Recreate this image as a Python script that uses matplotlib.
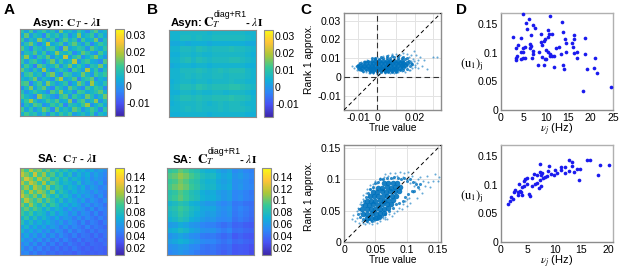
import matplotlib
matplotlib.use('Agg')
import matplotlib.pyplot as plt
import numpy as np
from matplotlib.colors import LinearSegmentedColormap

plt.rcParams['font.family'] = ['Liberation Sans', 'DejaVu Sans']
plt.rcParams['mathtext.fontset'] = 'stix'
plt.rcParams['font.size'] = 7

# heatmap values, coarse cells read by eye, in units of 0.001
asyn_true = [
    [9, 2, 12, -1, 6, 11, 3, 8, 0, 15, 4, 7, 1, 10, 5, -2, 8, 13, 2, 6],
    [4, 14, 1, 8, 5, -3, 12, 6, 10, 2, 9, -1, 5, 16, 3, 7, 11, 0, 9, 3],
    [11, 0, 7, 3, 16, 8, 1, 10, -2, 6, 13, 5, 9, -2, 12, 4, 6, 15, -1, 8],
    [2, 9, 15, 6, -2, 5, 19, 3, 7, 12, 0, 8, 14, 6, 1, 10, -3, 5, 11, 7],
    [13, 5, -2, 10, 7, 1, 9, 12, 4, -3, 16, 2, 6, 10, 8, 0, 13, 7, 3, 10],
    [0, 8, 6, 13, 3, 11, -1, 5, 17, 8, 6, 11, -2, 4, 14, 9, 2, -1, 12, 5],
    [7, 17, 3, -3, 10, 6, 14, 0, 8, 4, 21, 1, 9, 13, -1, 5, 10, 16, 6, 0],
    [10, 1, 9, 12, 4, -2, 7, 15, 2, 11, 3, 7, 20, 0, 8, 12, 4, 2, -2, 13],
    [3, 12, 5, -4, 14, 9, 2, 6, 13, 0, 8, 15, 4, 11, 5, -2, 9, 7, 15, 4],
    [14, 6, 0, 9, 2, 18, 5, -2, 6, 10, 5, -3, 12, 7, 1, 19, 3, 10, -1, 8],
    [1, 10, 13, 5, 8, -1, 11, 16, 3, -2, 12, 9, 2, 5, 15, 6, 0, 12, 7, 11],
    [6, 3, 8, 15, 0, 7, 4, -1, 12, 19, 2, 6, 13, -3, 7, 10, 14, -1, 5, 2],
    [11, 13, -3, 6, 12, 2, 16, 8, 1, 5, 10, -2, 4, 15, 9, 0, 18, 6, 3, 9],
    [-1, 7, 16, 2, 9, 14, 3, -3, 11, 7, 0, 14, 8, 2, -2, 12, 5, 11, 8, -2],
    [8, 0, 5, 11, 6, 3, -2, 13, 7, 16, 4, 7, -1, 12, 10, 3, 6, 9, 14, 5],
    [12, 6, 2, -2, 17, 10, 7, 1, -3, 9, 13, 0, 11, 6, 2, 15, 8, 0, 6, 15],
    [4, 11, 18, 8, 1, 5, 12, 7, 13, 3, 5, 16, -2, 9, 13, 2, 7, 17, 0, 7],
    [-2, 8, 3, 13, 10, -1, 2, 11, 6, 12, -3, 9, 7, 4, 11, 18, -1, 5, 10, 3],
    [12, 2, 9, 0, 6, 15, 10, -2, 14, 4, 8, 3, 14, 9, 0, 6, 12, 7, -2, 10],
    [5, 12, 7, 9, 2, 8, -1, 9, 3, 11, 6, 12, 1, 5, 8, 3, 10, -1, 7, 4],
]
asyn_r1 = [
    [5, 5, 6, 6, 6, 6, 6, 5, 6, 6, 6, 6, 6, 6, 5, 5],
    [5, 5, 7, 7, 6, 7, 6, 6, 7, 7, 7, 7, 7, 7, 6, 5],
    [3, 3, 4, 3, 4, 4, 4, 3, 4, 4, 4, 4, 4, 4, 3, 3],
    [5, 5, 7, 7, 6, 8, 7, 6, 7, 7, 7, 8, 7, 7, 6, 5],
    [4, 4, 6, 6, 5, 6, 5, 5, 6, 6, 6, 6, 6, 6, 5, 4],
    [5, 5, 7, 8, 6, 8, 7, 6, 7, 7, 7, 8, 8, 7, 6, 5],
    [3, 4, 5, 5, 4, 5, 5, 4, 5, 5, 5, 5, 5, 5, 4, 4],
    [5, 5, 7, 7, 7, 8, 7, 6, 7, 8, 7, 8, 8, 8, 6, 5],
    [5, 5, 6, 7, 6, 7, 6, 6, 7, 7, 6, 7, 7, 7, 6, 5],
    [4, 5, 6, 6, 5, 6, 6, 5, 6, 6, 6, 7, 6, 6, 5, 5],
    [5, 6, 8, 8, 7, 9, 8, 7, 8, 8, 8, 9, 9, 8, 7, 6],
    [4, 4, 6, 6, 5, 6, 5, 5, 6, 6, 5, 6, 6, 6, 5, 4],
    [5, 6, 8, 8, 7, 8, 7, 7, 8, 8, 8, 9, 8, 8, 7, 5],
    [4, 5, 6, 6, 6, 7, 6, 5, 6, 7, 6, 7, 7, 6, 5, 5],
    [5, 5, 6, 7, 6, 7, 6, 6, 6, 7, 6, 7, 7, 7, 6, 5],
    [4, 4, 5, 5, 5, 5, 5, 4, 5, 5, 5, 5, 5, 5, 4, 4],
]
sa_true = [
    [108, 92, 116, 98, 106, 88, 100, 80, 90, 74, 84, 70, 78, 64, 72, 60, 68, 56, 62, 54],
    [118, 104, 90, 120, 94, 110, 84, 96, 74, 88, 68, 82, 60, 74, 62, 70, 54, 64, 56, 50],
    [100, 122, 108, 92, 114, 96, 104, 78, 92, 72, 84, 64, 76, 68, 58, 66, 52, 60, 54, 48],
    [114, 96, 118, 106, 88, 112, 82, 100, 86, 70, 78, 72, 62, 78, 56, 64, 58, 50, 60, 46],
    [96, 110, 88, 114, 102, 86, 108, 76, 90, 82, 66, 76, 70, 58, 70, 52, 62, 56, 48, 52],
    [110, 90, 112, 94, 110, 100, 80, 102, 72, 86, 74, 62, 72, 60, 64, 58, 50, 60, 50, 46],
    [118, 102, 92, 106, 84, 108, 90, 74, 88, 68, 80, 70, 56, 68, 54, 62, 54, 46, 56, 44],
    [94, 116, 100, 86, 102, 78, 98, 84, 68, 82, 62, 74, 64, 54, 64, 48, 58, 50, 44, 52],
    [104, 86, 110, 90, 76, 94, 72, 90, 78, 62, 72, 58, 68, 60, 48, 58, 46, 54, 48, 42],
    [88, 100, 82, 96, 84, 68, 84, 64, 76, 68, 54, 66, 52, 60, 54, 44, 56, 42, 50, 46],
    [92, 78, 92, 72, 80, 74, 60, 76, 58, 70, 62, 50, 60, 46, 56, 50, 42, 52, 40, 46],
    [74, 88, 68, 82, 64, 76, 66, 56, 68, 52, 60, 56, 46, 56, 44, 52, 46, 40, 48, 42],
    [84, 66, 78, 62, 72, 60, 70, 60, 52, 62, 48, 58, 50, 42, 52, 40, 48, 44, 38, 46],
    [64, 76, 58, 70, 56, 66, 52, 62, 56, 46, 56, 44, 52, 46, 40, 50, 40, 46, 42, 38],
    [74, 58, 68, 54, 64, 50, 60, 46, 58, 52, 42, 54, 42, 50, 44, 38, 46, 38, 44, 42],
    [56, 66, 52, 62, 48, 60, 46, 56, 44, 54, 46, 40, 48, 38, 44, 42, 36, 44, 36, 42],
    [64, 52, 60, 46, 58, 44, 54, 42, 50, 40, 50, 42, 36, 46, 36, 42, 40, 34, 42, 38],
    [50, 58, 46, 56, 42, 52, 40, 48, 38, 46, 38, 46, 40, 36, 42, 34, 40, 38, 36, 40],
    [56, 46, 54, 42, 50, 40, 46, 38, 44, 36, 42, 36, 44, 38, 34, 38, 34, 38, 36, 34],
    [48, 52, 42, 48, 40, 44, 38, 42, 36, 40, 36, 38, 34, 40, 36, 34, 36, 34, 36, 34],
]
sa_r1 = [
    [88, 92, 100, 94, 86, 82, 74, 70, 72, 64, 60, 64, 52, 56, 50, 48],
    [96, 100, 108, 102, 94, 88, 80, 76, 78, 70, 64, 68, 56, 60, 54, 50],
    [90, 94, 102, 96, 88, 84, 76, 72, 74, 66, 62, 66, 54, 56, 52, 48],
    [94, 100, 106, 100, 92, 86, 78, 74, 76, 68, 64, 68, 54, 58, 52, 50],
    [84, 88, 96, 90, 82, 78, 70, 66, 68, 62, 58, 62, 50, 52, 48, 44],
    [86, 92, 98, 92, 84, 80, 72, 68, 70, 64, 58, 62, 50, 54, 48, 46],
    [74, 78, 84, 80, 72, 68, 62, 58, 60, 54, 50, 54, 44, 46, 42, 40],
    [80, 84, 92, 86, 78, 74, 66, 64, 66, 58, 54, 58, 46, 50, 46, 42],
    [76, 80, 88, 82, 76, 70, 64, 60, 62, 56, 52, 56, 44, 48, 44, 40],
    [72, 76, 82, 78, 70, 66, 60, 56, 58, 52, 50, 52, 42, 46, 42, 38],
    [60, 62, 68, 64, 58, 56, 50, 48, 48, 44, 40, 44, 36, 38, 34, 32],
    [68, 72, 78, 74, 66, 62, 56, 54, 56, 50, 46, 50, 40, 42, 38, 36],
    [56, 60, 64, 60, 54, 52, 46, 44, 46, 42, 38, 42, 32, 36, 32, 30],
    [62, 66, 72, 68, 62, 58, 52, 50, 50, 46, 42, 46, 38, 40, 36, 34],
    [54, 56, 60, 58, 52, 50, 44, 42, 44, 40, 38, 40, 32, 34, 32, 28],
    [50, 54, 58, 54, 50, 46, 42, 40, 42, 38, 34, 38, 30, 32, 30, 26],
]

# panel C, top: loose dots, the band round the middle, then the solid middle
asyn_sparse_x = [-0.0135, -0.0125, -0.0115, -0.011, -0.0105, -0.01, -0.0098, -0.0095, -0.009, -0.0088, -0.0085, -0.008, -0.008, -0.0075, -0.007, -0.0068, -0.0065, -0.006, -0.006, -0.0055, -0.005, -0.0045, -0.004, -0.0035, -0.003, -0.0025, -0.002, -0.001, 0.0, 0.0, 0.001, 0.002, 0.003, 0.004, 0.005, 0.006, 0.007, 0.008, 0.009, 0.01, 0.011, 0.012, 0.013, 0.014, 0.015, 0.016, 0.016, 0.017, 0.0175, 0.018, 0.0185, 0.019, 0.0195, 0.02, 0.0205, 0.021, 0.0215, 0.022, 0.023, 0.024, 0.025, 0.0265, 0.03, 0.032, 0.0165, 0.0172, 0.018, 0.0188, 0.0195, 0.02]
asyn_sparse_y = [0.0055, 0.0045, 0.006, 0.0038, 0.0065, 0.005, 0.0072, 0.0034, 0.0058, 0.0043, 0.0078, 0.0072, 0.0035, 0.0028, 0.0062, 0.0082, 0.0085, 0.0025, 0.0078, 0.0088, 0.0086, 0.0021, 0.0022, 0.0092, 0.0094, 0.002, 0.0018, 0.0098, 0.0105, 0.0015, 0.0016, 0.0102, 0.011, 0.0018, 0.0108, 0.0118, 0.0022, 0.012, 0.002, 0.0122, 0.0025, 0.0118, 0.003, 0.0125, 0.0028, 0.0122, 0.0055, 0.0105, 0.0038, 0.0115, 0.0048, 0.0095, 0.0138, 0.0062, 0.0115, 0.0072, 0.0045, 0.0088, 0.0105, 0.0058, 0.0092, 0.0042, 0.0108, 0.0108, 0.0092, 0.0038, 0.0082, 0.0062, 0.0085, 0.0052]
asyn_mid_x = [-0.011, -0.0105, -0.01, -0.0095, -0.009, -0.0085, -0.008, -0.0075, -0.007, -0.006, -0.005, -0.004, -0.003, -0.002, -0.001, 0.0, 0.001, 0.002, 0.003, 0.004, 0.005, 0.006, 0.007, 0.008, 0.009, 0.01, 0.011, 0.012, 0.013, 0.014, 0.015, 0.016, 0.017, 0.0175, 0.018, 0.0185, -0.003, -0.001, 0.002, 0.005, 0.008, 0.011, 0.014, 0.016]
asyn_mid_y = [0.0055, 0.0048, 0.0062, 0.0042, 0.0072, 0.0038, 0.0068, 0.0032, 0.0078, 0.0034, 0.0082, 0.0028, 0.0086, 0.0026, 0.0093, 0.0025, 0.0096, 0.0024, 0.0098, 0.0024, 0.0098, 0.0025, 0.0102, 0.0026, 0.0104, 0.0028, 0.0102, 0.0034, 0.0098, 0.0038, 0.0094, 0.0044, 0.0084, 0.0056, 0.0076, 0.0066, 0.0098, 0.0102, 0.0106, 0.011, 0.0112, 0.0112, 0.0108, 0.0098]
asyn_core_x = [-0.004, -0.002, 0.0, 0.002, 0.004, 0.006, 0.008, 0.01,
               -0.008, -0.006, -0.004, -0.002, 0.0, 0.002, 0.004, 0.006, 0.008, 0.01, 0.012, 0.014,
               -0.009, -0.007, -0.005, -0.003, -0.001, 0.001, 0.003, 0.005, 0.007, 0.009, 0.011, 0.013, 0.015,
               -0.006, -0.004, -0.002, 0.0, 0.002, 0.004, 0.006, 0.008, 0.01, 0.012, 0.014, 0.016,
               -0.001, 0.001, 0.003, 0.005, 0.007, 0.009, 0.011, 0.013]
asyn_core_y = [0.0035, 0.0036, 0.0034, 0.0035, 0.0036, 0.0035, 0.0036, 0.0038,
               0.0048, 0.0048, 0.0047, 0.0048, 0.0048, 0.0047, 0.0048, 0.0048, 0.0049, 0.0048, 0.0049, 0.005,
               0.006, 0.006, 0.006, 0.0059, 0.006, 0.006, 0.006, 0.006, 0.0061, 0.006, 0.0061, 0.0062, 0.0062,
               0.0071, 0.0072, 0.0072, 0.0072, 0.0073, 0.0072, 0.0073, 0.0073, 0.0073, 0.0074, 0.0074, 0.0072,
               0.0084, 0.0085, 0.0085, 0.0086, 0.0086, 0.0086, 0.0086, 0.0084]

# panel C, bottom
sa_sparse_x = [0.012, 0.015, 0.018, 0.02, 0.021, 0.023, 0.024, 0.025, 0.026, 0.027, 0.028, 0.03, 0.03, 0.031, 0.032, 0.034, 0.035, 0.036, 0.037, 0.038, 0.04, 0.041, 0.042, 0.043, 0.045, 0.046, 0.047, 0.048, 0.05, 0.052, 0.053, 0.055, 0.057, 0.058, 0.06, 0.062, 0.064, 0.065, 0.066, 0.068, 0.07, 0.072, 0.074, 0.076, 0.078, 0.08, 0.082, 0.084, 0.085, 0.088, 0.09, 0.092, 0.094, 0.095, 0.096, 0.098, 0.1, 0.1, 0.102, 0.104, 0.105, 0.106, 0.108, 0.11, 0.112, 0.114, 0.116, 0.118, 0.12, 0.122, 0.124, 0.126, 0.13, 0.133, 0.135, 0.138, 0.142, 0.146, 0.15, 0.152, 0.066, 0.1]
sa_sparse_y = [0.037, 0.043, 0.033, 0.05, 0.038, 0.055, 0.03, 0.046, 0.06, 0.064, 0.034, 0.068, 0.03, 0.075, 0.062, 0.028, 0.078, 0.032, 0.085, 0.072, 0.03, 0.084, 0.091, 0.033, 0.029, 0.092, 0.086, 0.034, 0.098, 0.03, 0.095, 0.036, 0.102, 0.034, 0.1, 0.038, 0.104, 0.04, 0.108, 0.036, 0.106, 0.044, 0.11, 0.042, 0.102, 0.046, 0.11, 0.05, 0.106, 0.055, 0.112, 0.052, 0.104, 0.06, 0.11, 0.066, 0.1, 0.058, 0.112, 0.07, 0.094, 0.062, 0.106, 0.08, 0.09, 0.096, 0.07, 0.1, 0.084, 0.104, 0.078, 0.098, 0.09, 0.105, 0.096, 0.088, 0.098, 0.108, 0.098, 0.104, 0.036, 0.068]
sa_mid_x = [0.022, 0.024, 0.026, 0.028, 0.03, 0.032, 0.033, 0.035, 0.036, 0.038, 0.04, 0.042, 0.044, 0.046, 0.048, 0.05, 0.052, 0.054, 0.056, 0.058, 0.06, 0.063, 0.066, 0.069, 0.072, 0.075, 0.078, 0.08, 0.083, 0.086, 0.088, 0.091, 0.094, 0.096, 0.098, 0.1, 0.103, 0.106, 0.108, 0.11, 0.112, 0.115, 0.118, 0.122]
sa_mid_y = [0.045, 0.052, 0.04, 0.059, 0.036, 0.066, 0.035, 0.072, 0.033, 0.079, 0.036, 0.084, 0.034, 0.088, 0.039, 0.094, 0.036, 0.096, 0.04, 0.1, 0.042, 0.1, 0.045, 0.102, 0.05, 0.102, 0.054, 0.104, 0.06, 0.102, 0.062, 0.1, 0.066, 0.102, 0.072, 0.098, 0.076, 0.1, 0.082, 0.096, 0.082, 0.092, 0.088, 0.092]
sa_core_x = [0.036, 0.043, 0.05, 0.056,
             0.03, 0.037, 0.044, 0.051, 0.058, 0.064,
             0.029, 0.036, 0.043, 0.05, 0.057, 0.064, 0.071,
             0.033, 0.04, 0.047, 0.054, 0.061, 0.068, 0.075,
             0.036, 0.043, 0.05, 0.057, 0.064, 0.071, 0.078,
             0.041, 0.048, 0.055, 0.062, 0.069, 0.076, 0.083,
             0.046, 0.053, 0.06, 0.067, 0.074, 0.081, 0.088,
             0.054, 0.061, 0.068, 0.075, 0.082, 0.089,
             0.064, 0.071, 0.078, 0.085]
sa_core_y = [0.038, 0.039, 0.038, 0.04,
             0.045, 0.045, 0.046, 0.045, 0.046, 0.046,
             0.052, 0.052, 0.052, 0.053, 0.052, 0.053, 0.054,
             0.059, 0.059, 0.06, 0.059, 0.06, 0.06, 0.061,
             0.066, 0.066, 0.066, 0.067, 0.066, 0.067, 0.067,
             0.073, 0.073, 0.074, 0.073, 0.074, 0.074, 0.074,
             0.08, 0.08, 0.081, 0.08, 0.081, 0.081, 0.081,
             0.087, 0.087, 0.088, 0.087, 0.088, 0.088,
             0.094, 0.094, 0.095, 0.094]

# panel D
asyn_rate = [4.9, 6.2, 5.5, 11.0, 7.1, 7.7, 5.8, 13.7, 2.6, 4.5, 3.7, 3.4, 5.0, 5.4, 6.8, 8.9, 10.4, 10.7, 11.4, 10.5, 13.9, 16.4, 16.4, 14.3, 14.4, 15.9, 16.1, 18.7, 9.0, 9.5, 9.8, 9.2, 6.5, 6.8, 6.4, 8.5, 7.1, 4.5, 4.9, 3.5, 5.3, 4.5, 4.9, 3.4, 3.4, 6.9, 7.1, 9.2, 9.9, 10.1, 10.5, 10.9, 11.4, 11.9, 12.2, 13.0, 13.3, 14.5, 16.4, 17.0, 17.0, 18.8, 11.8, 8.3, 9.5, 13.8, 14.0, 21.0, 19.3, 20.8, 21.5, 18.4, 24.5, 11.0, 10.1]
asyn_u1 = [0.168, 0.159, 0.153, 0.164, 0.149, 0.144, 0.142, 0.154, 0.128, 0.126, 0.114, 0.108, 0.109, 0.11, 0.131, 0.134, 0.14, 0.134, 0.134, 0.128, 0.136, 0.131, 0.124, 0.124, 0.118, 0.117, 0.111, 0.126, 0.12, 0.121, 0.124, 0.114, 0.115, 0.113, 0.109, 0.102, 0.104, 0.102, 0.101, 0.095, 0.091, 0.089, 0.091, 0.091, 0.087, 0.092, 0.099, 0.093, 0.089, 0.106, 0.102, 0.098, 0.094, 0.095, 0.108, 0.111, 0.099, 0.102, 0.1, 0.101, 0.091, 0.098, 0.075, 0.079, 0.079, 0.078, 0.072, 0.091, 0.071, 0.074, 0.064, 0.033, 0.041, 0.094, 0.089]
sa_rate = [1.3, 1.7, 2.3, 1.9, 2.4, 2.7, 3.1, 3.1, 3.4, 3.6, 3.8, 3.9, 4.0, 4.2, 4.4, 4.3, 5.2, 5.4, 4.8, 5.7, 5.7, 6.2, 6.4, 6.8, 6.8, 7.2, 7.1, 7.4, 7.3, 7.7, 8.2, 8.5, 8.8, 9.0, 9.3, 7.9, 10.1, 11.2, 11.2, 12.0, 11.9, 12.7, 13.2, 13.2, 12.7, 13.6, 14.1, 14.7, 14.6, 16.0, 16.6, 18.5, 18.1, 20.1, 10.5, 9.9, 7.2, 4.9, 7.4]
sa_u1 = [0.066, 0.072, 0.075, 0.078, 0.087, 0.092, 0.088, 0.082, 0.101, 0.089, 0.088, 0.082, 0.096, 0.107, 0.11, 0.098, 0.084, 0.08, 0.112, 0.098, 0.112, 0.119, 0.101, 0.104, 0.117, 0.137, 0.095, 0.098, 0.108, 0.121, 0.114, 0.115, 0.124, 0.133, 0.119, 0.113, 0.127, 0.132, 0.126, 0.131, 0.121, 0.143, 0.141, 0.133, 0.124, 0.122, 0.128, 0.128, 0.108, 0.144, 0.144, 0.135, 0.117, 0.135, 0.121, 0.118, 0.123, 0.101, 0.118]

parula = LinearSegmentedColormap.from_list('parula', [
    (0.2422, 0.1504, 0.6603), (0.2810, 0.3228, 0.9579), (0.1786, 0.5289, 0.9682),
    (0.0689, 0.6948, 0.8394), (0.2161, 0.7843, 0.5923), (0.6720, 0.7793, 0.2227),
    (0.9970, 0.7659, 0.2199), (0.9769, 0.9839, 0.0805)])

W, H = 625, 270
fig = plt.figure(figsize=(W / 100, H / 100), dpi=100)
FRAME = '#8c8c8c'


def axes_px(x0, y0, x1, y1):
    return fig.add_axes([x0 / W, 1 - y1 / H, (x1 - x0) / W, (y1 - y0) / H])


def frame(ax, width=1.0):
    for s in ax.spines.values():
        s.set_color(FRAME)
        s.set_linewidth(width)


def heat(box, cbox, values, vmin, vmax, ticks, labels):
    ax = axes_px(*box)
    im = ax.imshow(np.array(values) / 1000, cmap=parula, vmin=vmin, vmax=vmax,
                   aspect='auto', interpolation='nearest')
    ax.set_xticks([])
    ax.set_yticks([])
    frame(ax, 0.8)
    cax = axes_px(*cbox)
    cb = fig.colorbar(im, cax=cax)
    cb.set_ticks(ticks)
    cb.set_ticklabels(labels)
    cb.ax.tick_params(length=0, pad=1.5, labelsize=7.6)
    cb.outline.set_edgecolor(FRAME)
    cb.outline.set_linewidth(0.8)
    return ax


t1 = [0.03, 0.02, 0.01, 0, -0.01]
l1 = ['0.03', '0.02', '0.01', '0', '-0.01']
t2 = [0.14, 0.12, 0.1, 0.08, 0.06, 0.04, 0.02]
l2 = ['0.14', '0.12', '0.1', '0.08', '0.06', '0.04', '0.02']
heat((20, 29, 107, 116), (115, 29, 124, 116), asyn_true, -0.0179, 0.0337, t1, l1)
heat((169, 30, 256, 117), (264, 30, 273, 117), asyn_r1, -0.0179, 0.0337, t1, l1)
heat((20, 168, 107, 255), (115, 168, 124, 255), sa_true, 0.0075, 0.155, t2, l2)
heat((167, 168, 254, 255), (262, 168, 271, 255), sa_r1, 0.0075, 0.155, t2, l2)

title_kw = dict(ha='center', va='baseline', fontsize=8.2, fontweight='bold')
fig.text(67 / W, 1 - 26 / H, r'Asyn: $\mathbf{C}_{T}$ - $\lambda\mathbf{I}$', **title_kw)
fig.text(67 / W, 1 - 163 / H, r'SA:  $\mathbf{C}_{T}$ - $\lambda\mathbf{I}$', **title_kw)


def r1_title(y, x_name, name, x_c):
    # the superscript is as large as normal text here, so it is placed apart
    fig.text(x_name / W, 1 - y / H, name, ha='left', va='baseline', fontsize=8.2, fontweight='bold')
    fig.text(x_c / W, 1 - y / H, r'$\mathbf{C}_{T}$', ha='left', va='baseline', fontsize=9.5)
    fig.text((x_c + 11) / W, 1 - (y - 9) / H, 'diag+R1', ha='left', va='baseline', fontsize=6.3)
    fig.text((x_c + 42) / W, 1 - y / H, r'- $\lambda\mathbf{I}$', ha='left', va='baseline',
             fontsize=8.2, fontweight='bold')


r1_title(26, 171, 'Asyn:', 203)
r1_title(163, 173, 'SA:', 197)

for letter, x in zip('ABCD', (4, 147, 300, 456)):
    fig.text(x / W, 1 - 14 / H, letter, fontsize=11, fontweight='bold', va='baseline')

BLUE = '#0072bd'


def cloud(box, lim, ticks, labels, yticks, ylabels, sx, sy, mx, my, cx, cy, size, zero_lines):
    ax = axes_px(*box)
    ax.scatter(sx, sy, s=2.2, color=BLUE, alpha=0.6, linewidths=0, zorder=2)
    ax.scatter(mx, my, s=5, color=BLUE, alpha=0.8, linewidths=0, zorder=2)
    ax.scatter(cx, cy, s=size, color=BLUE, alpha=0.9, linewidths=0, zorder=2)
    ax.plot(lim, lim, color='k', lw=0.7, ls=(0, (4, 3)), zorder=3)
    if zero_lines:
        ax.axhline(0, color='#333333', lw=0.8, ls=(0, (5, 3)), zorder=3)
        ax.axvline(0, color='#333333', lw=0.8, ls=(0, (5, 3)), zorder=3)
    ax.set_xlim(lim)
    ax.set_ylim(lim)
    ax.set_xticks(ticks)
    ax.set_xticklabels(labels)
    ax.set_yticks(yticks)
    ax.set_yticklabels(ylabels)
    ax.grid(True, color='#e3e3e3', lw=0.7)
    ax.set_axisbelow(True)
    ax.tick_params(length=0, pad=2, labelsize=7.6)
    ax.set_xlabel('True value', fontsize=7.3, labelpad=0.5)
    frame(ax)
    return ax


cloud((344, 13, 441, 110), [-0.0177, 0.034], [-0.01, 0, 0.01, 0.02, 0.03],
      ['-0.01', '0', '', '0.02', ''], t1, l1,
      asyn_sparse_x, asyn_sparse_y, asyn_mid_x, asyn_mid_y, asyn_core_x, asyn_core_y, 13, True)
cloud((344, 145, 441, 242), [0, 0.155], [0, 0.05, 0.1, 0.15],
      ['0', '0.05', '0.1', '0.15'], [0, 0.05, 0.1, 0.15], ['0', '0.05', '0.1', '0.15'],
      sa_sparse_x, sa_sparse_y, sa_mid_x, sa_mid_y, sa_core_x, sa_core_y, 16, False)
fig.text(309 / W, 1 - 59 / H, 'Rank 1 approx.', rotation=90, ha='center', va='center', fontsize=7.4)
fig.text(309 / W, 1 - 196 / H, 'Rank 1 approx.', rotation=90, ha='center', va='center', fontsize=7.4)


def rates(box, xs, ys, xlim, xticks):
    ax = axes_px(*box)
    ax.scatter(xs, ys, s=7, color='#1a1aee', linewidths=0, clip_on=False, zorder=3)
    ax.set_xlim(xlim)
    ax.set_ylim(0, 0.17)
    ax.set_xticks(xticks)
    ax.set_yticks([0, 0.05, 0.1, 0.15])
    ax.set_yticklabels(['0', '0.05', '0.1', '0.15'])
    ax.tick_params(length=0, pad=2, labelsize=7.6)
    frame(ax)
    ax.spines['top'].set_color('#b0b0b0')
    ax.spines['right'].set_color('#b0b0b0')
    return ax


rates((501, 13, 613, 110), asyn_rate, asyn_u1, (0, 25), [0, 5, 10, 15, 20, 25])
rates((501, 145, 613, 242), sa_rate, sa_u1, (0, 20.9), [0, 5, 10, 15, 20])
fig.text(557 / W, 1 - 130 / H, r'$\nu_j$ (Hz)', ha='center', va='center', fontsize=8)
fig.text(557 / W, 1 - 262 / H, r'$\nu_j$ (Hz)', ha='center', va='center', fontsize=8)
fig.text(472 / W, 1 - 65 / H, r'$(\mathrm{u}_1)_{\mathrm{j}}$', ha='center', va='center', fontsize=9)
fig.text(472 / W, 1 - 197 / H, r'$(\mathrm{u}_1)_{\mathrm{j}}$', ha='center', va='center', fontsize=9)

fig.savefig('out.png', dpi=100)
